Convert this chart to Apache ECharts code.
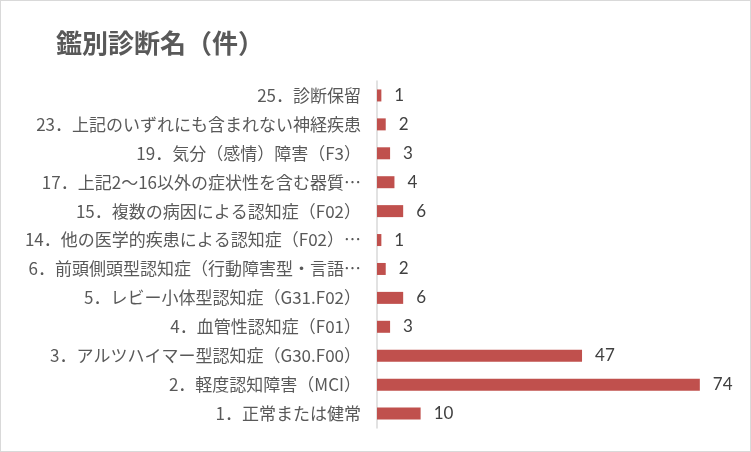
<!DOCTYPE html>
<html>
<head>
<meta charset="utf-8">
<script src="https://cdn.jsdelivr.net/npm/echarts@6/dist/echarts.min.js"></script>
<style>
  html, body { margin: 0; padding: 0; background: #fff; }
  #chart { width: 751px; height: 452px; box-sizing: border-box; border: 1px solid #d9d9d9; }
</style>
</head>
<body>
<div id="chart"></div>
<script>
// 下から上の順
const categories = [
  '1．正常または健常',
  '2．軽度認知障害（MCI）',
  '3．アルツハイマー型認知症（G30.F00）',
  '4．血管性認知症（F01）',
  '5．レビー小体型認知症（G31.F02）',
  '6．前頭側頭型認知症（行動障害型・言語…',
  '14．他の医学的疾患による認知症（F02）…',
  '15．複数の病因による認知症（F02）',
  '17．上記2～16以外の症状性を含む器質…',
  '19．気分（感情）障害（F3）',
  '23．上記のいずれにも含まれない神経疾患',
  '25．診断保留'
];
const counts = [10, 74, 47, 3, 6, 2, 1, 6, 4, 3, 2, 1];
const titleText = '鑑別診断名（件）';

const myChart = echarts.init(document.getElementById('chart'));
myChart.setOption({
  animation: false,
  title: {
    text: titleText,
    left: 50,
    top: 24,
    textStyle: {
      fontFamily: 'Noto Sans CJK JP',
      fontSize: 26,
      fontWeight: 'bold',
      color: '#595959'
    }
  },
  grid: { left: 376, top: 80, width: 349, height: 347 },
  xAxis: {
    type: 'value',
    min: 0,
    max: 80,
    show: false
  },
  yAxis: {
    type: 'category',
    data: categories,
    axisTick: { show: false },
    axisLine: { show: true, lineStyle: { color: '#d9d9d9', width: 1.5 } },
    axisLabel: {
      margin: 16,
      fontFamily: 'Noto Sans CJK JP',
      fontSize: 17,
      color: '#595959'
    }
  },
  series: [{
    type: 'bar',
    data: counts,
    barWidth: 12,
    itemStyle: { color: '#c0504d' },
    label: {
      show: true,
      position: 'right',
      distance: 13,
      fontFamily: 'Lato',
      fontSize: 17,
      color: '#404040'
    }
  }]
});
</script>
</body>
</html>
